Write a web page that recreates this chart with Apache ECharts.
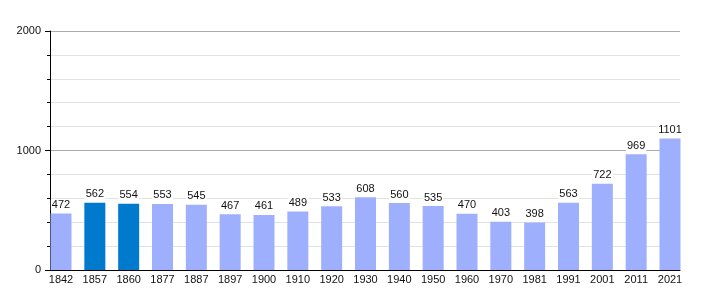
<!DOCTYPE html>
<html>
<head>
<meta charset="utf-8">
<script src="https://cdn.jsdelivr.net/npm/echarts@6/dist/echarts.min.js"></script>
<style>html,body{margin:0;padding:0;background:#fff}#c{width:710px;height:300px}</style>
</head>
<body>
<div id="c"></div>
<script>
var years = ['1842','1857','1860','1877','1887','1897','1900','1910','1920','1930','1940','1950','1960','1970','1981','1991','2001','2011','2021'];
var population = [472,562,554,553,545,467,461,489,533,608,560,535,470,403,398,563,722,969,1101];
var highlighted = ['1857','1860'];
var yTicks = [0, 1000, 2000];

var lightColor = '#9eb0fd';
var darkColor = '#007acc';
var font = 'Liberation Sans, Arial, sans-serif';

var chart = echarts.init(document.getElementById('c'), null, {renderer: 'canvas'});
chart.setOption({
  animation: false,
  grid: [
    {left: 61, right: 40, top: 31, bottom: 30},
    {left: 50, right: 30, top: 31, bottom: 30}
  ],
  xAxis: [
    {
      type: 'category', gridIndex: 0, data: years, boundaryGap: false,
      axisLine: {show: false}, axisTick: {show: false},
      axisLabel: {color: '#111', fontFamily: font, fontSize: 11, margin: 4, interval: 0}
    },
    {
      type: 'value', gridIndex: 1, min: 0, max: 1,
      axisLine: {show: true, lineStyle: {color: '#000', width: 1}},
      axisTick: {show: false}, axisLabel: {show: false}, splitLine: {show: false}
    }
  ],
  yAxis: [
    {
      type: 'value', gridIndex: 0, min: yTicks[0], max: yTicks[yTicks.length - 1],
      show: false
    },
    {
      type: 'value', gridIndex: 1, min: yTicks[0], max: yTicks[yTicks.length - 1], interval: 1000,
      axisLine: {show: true, lineStyle: {color: '#000', width: 1}},
      axisTick: {show: true, length: 5, lineStyle: {color: '#000'}},
      minorTick: {show: true, splitNumber: 5, length: 3, lineStyle: {color: '#000'}},
      axisLabel: {color: '#111', fontFamily: font, fontSize: 11, margin: 9,
        formatter: function (v) { return String(v); }},
      splitLine: {show: true, lineStyle: {color: '#aaaaaa', width: 1}},
      minorSplitLine: {show: true, lineStyle: {color: '#e2e2e2', width: 1}}
    }
  ],
  series: [{
    type: 'bar', xAxisIndex: 0, yAxisIndex: 0,
    barWidth: 21,
    data: population.map(function (v, i) {
      return {value: v, itemStyle: {color: highlighted.indexOf(years[i]) >= 0 ? darkColor : lightColor}};
    }),
    label: {show: true, position: 'top', distance: 3, color: '#111', fontFamily: font, fontSize: 11,
      backgroundColor: '#fff', padding: [0, 1, 0, 1]}
  }]
});
</script>
</body>
</html>
